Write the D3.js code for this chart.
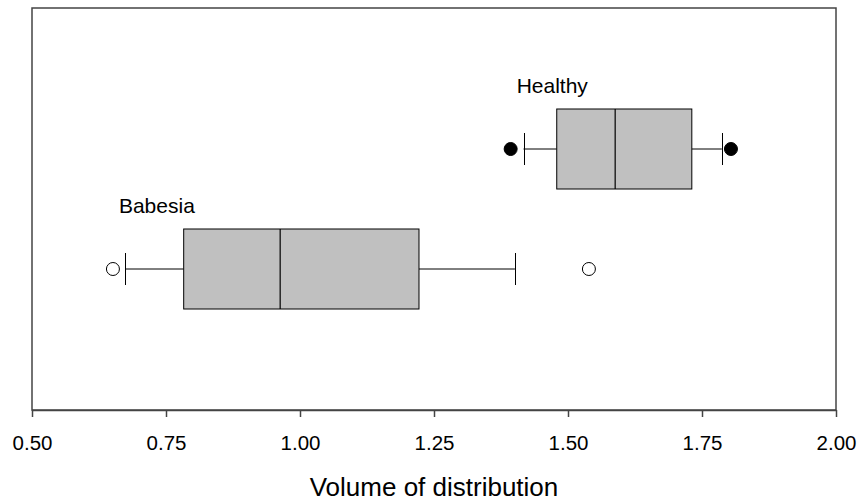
<!DOCTYPE html>
<html>
<head>
<meta charset="utf-8">
<script src="https://cdn.jsdelivr.net/npm/d3@7"></script>
<style>
  html, body { margin: 0; padding: 0; background: #fff; }
  svg { display: block; font-family: "Liberation Sans", Arial, Helvetica, sans-serif; }
</style>
</head>
<body>
<svg id="chart" width="862" height="504"></svg>
<script>
// Groups, drawn bottom to top
const groups = ["Babesia", "Healthy"];
// Box statistics per group (same order as groups)
const whiskerLow  = [0.674, 1.417];
const q1          = [0.783, 1.479];
const median      = [0.963, 1.588];
const q3          = [1.222, 1.731];
const whiskerHigh = [1.401, 1.787];
// Outlying points per group
const outliers = [[0.651, 1.539], [1.393, 1.804]];
// Outlier marker style per group: open or filled circle
const outlierFilled = [false, true];
// Axis ticks
const xTicks = [0.50, 0.75, 1.00, 1.25, 1.50, 1.75, 2.00];
const xTitle = "Volume of distribution";

const plot = { left: 32, right: 836, top: 8, bottom: 410 };
const svg = d3.select("#chart");

const x = d3.scaleLinear().domain([0.5, 2.0]).range([plot.left, plot.right]);
const y = d3.scaleLinear().domain([-0.175, 3.175]).range([plot.bottom, plot.top]);

const boxHalf = 40;   // px, half box height
const capHalf = 16;   // px, half whisker cap length
const rOut = 6.5;

const data = groups.map((g, i) => ({
  name: g, pos: i + 1,
  lo: whiskerLow[i], q1: q1[i], med: median[i], q3: q3[i], hi: whiskerHigh[i],
  out: outliers[i], filled: outlierFilled[i]
}));

const g = svg.append("g");
const box = g.selectAll("g.box").data(data).join("g").attr("class", "box");

// whiskers
box.append("line")
  .attr("x1", d => x(d.lo)).attr("x2", d => x(d.q1))
  .attr("y1", d => y(d.pos)).attr("y2", d => y(d.pos))
  .attr("stroke", "#000").attr("stroke-width", 1);
box.append("line")
  .attr("x1", d => x(d.q3)).attr("x2", d => x(d.hi))
  .attr("y1", d => y(d.pos)).attr("y2", d => y(d.pos))
  .attr("stroke", "#000").attr("stroke-width", 1);
// caps
["lo", "hi"].forEach(k => {
  box.append("line")
    .attr("x1", d => Math.round(x(d[k])) + 0.5).attr("x2", d => Math.round(x(d[k])) + 0.5)
    .attr("y1", d => y(d.pos) - capHalf).attr("y2", d => y(d.pos) + capHalf)
    .attr("stroke", "#000").attr("stroke-width", 1);
});
// box
box.append("rect")
  .attr("x", d => x(d.q1)).attr("width", d => x(d.q3) - x(d.q1))
  .attr("y", d => y(d.pos) - boxHalf).attr("height", boxHalf * 2)
  .attr("fill", "#c0c0c0").attr("stroke", "#000").attr("stroke-width", 1);
// median
box.append("line")
  .attr("x1", d => x(d.med)).attr("x2", d => x(d.med))
  .attr("y1", d => y(d.pos) - boxHalf).attr("y2", d => y(d.pos) + boxHalf)
  .attr("stroke", "#000").attr("stroke-width", 1.2);
// outliers
box.selectAll("circle").data(d => d.out.map(v => ({ v, pos: d.pos, filled: d.filled })))
  .join("circle")
  .attr("cx", o => x(o.v)).attr("cy", o => y(o.pos)).attr("r", rOut)
  .attr("fill", o => o.filled ? "#000" : "#fff")
  .attr("stroke", "#000").attr("stroke-width", 1);
// group labels, placed above each box starting near its lowest point
box.append("text")
  .attr("x", d => x(d3.min(d.out.concat([d.lo]))) + 6)
  .attr("y", d => y(d.pos) - boxHalf - 16)
  .attr("font-size", 21).attr("fill", "#000")
  .text(d => d.name);

// frame
svg.append("rect")
  .attr("x", plot.left).attr("y", plot.top)
  .attr("width", plot.right - plot.left).attr("height", plot.bottom - plot.top)
  .attr("fill", "none").attr("stroke", "#444").attr("stroke-width", 1.5);

// x axis
const xAxis = d3.axisBottom(x).tickValues(xTicks).tickFormat(d3.format(".2f"))
  .tickSize(7).tickSizeOuter(0).tickPadding(18);
const ax = svg.append("g").attr("transform", `translate(0,${plot.bottom})`).call(xAxis);
ax.select(".domain").attr("stroke", "#444").attr("stroke-width", 1.5);
ax.selectAll(".tick line").attr("stroke", "#444").attr("stroke-width", 1.5);
ax.selectAll(".tick text").attr("font-size", 20.5).attr("fill", "#000")
  .attr("font-family", "'Liberation Sans', Arial, sans-serif");

svg.append("text")
  .attr("x", (plot.left + plot.right) / 2 + 0).attr("y", 496)
  .attr("text-anchor", "middle").attr("font-size", 26).attr("fill", "#000")
  .text(xTitle);
</script>
</body>
</html>
